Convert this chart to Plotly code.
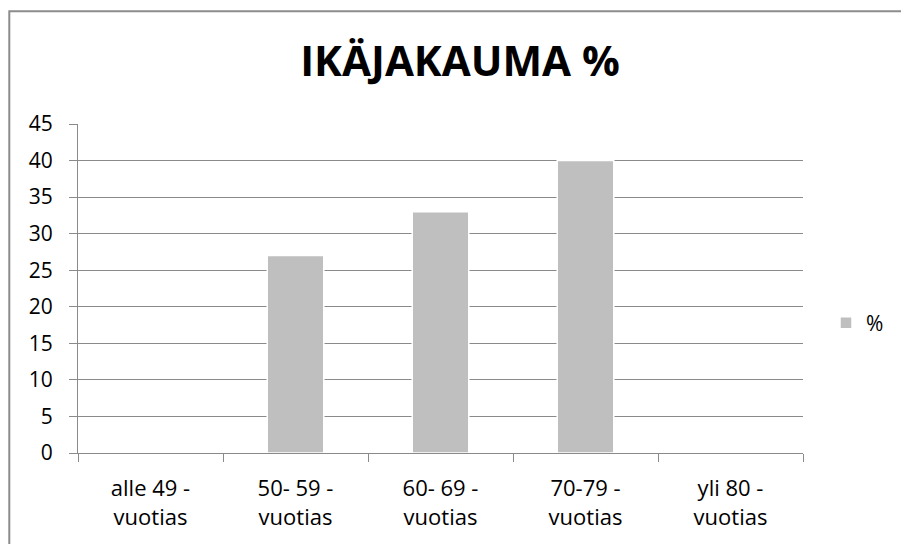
import plotly.graph_objects as go

categories = ["alle 49 -<br>vuotias", "50- 59 -<br>vuotias", "60- 69 -<br>vuotias",
              "70-79 -<br>vuotias", "yli 80 -<br>vuotias"]
values = [0, 27, 33, 40, 0]
series_name = "%"
title_text = "IKÄJAKAUMA %"
y_ticks = [0, 5, 10, 15, 20, 25, 30, 35, 40, 45]

W, H = 901, 544
L, R, T, B = 78, 98, 124, 91
pw, ph = W - L - R, H - T - B

def px_x(p):
    return (p - L) / pw

def px_y(p):
    return (H - B - p) / ph

FONT = "Open Sans"
GRID = "#8a8a8a"

fig = go.Figure()
fig.add_trace(go.Bar(
    x=categories, y=values, name=series_name,
    marker=dict(color="#bfbfbf", line=dict(color="#ffffff", width=1.5)),
    width=0.39, showlegend=True,
))

fig.update_layout(
    width=W, height=H,
    margin=dict(l=L, r=R, t=T, b=B),
    paper_bgcolor="white", plot_bgcolor="white",
    font=dict(family=FONT, size=21, color="#000000"),
    title=dict(text="<b>" + title_text + "</b>", x=px_x(460), xref="paper",
               xanchor="center", y=1 - 61 / H, yanchor="middle",
               font=dict(family=FONT, size=42, color="#000000")),
    xaxis=dict(
        type="category", showline=True, linecolor=GRID, linewidth=1,
        ticks="outside", tickson="boundaries", ticklen=8, tickcolor=GRID,
        showgrid=False, tickfont=dict(family=FONT, size=22), ticklabelstandoff=16,
        automargin=False,
    ),
    yaxis=dict(
        range=[0, 45], tickvals=y_ticks, showline=True, linecolor=GRID, linewidth=1,
        ticks="outside", ticklen=8, tickcolor=GRID,
        showgrid=True, gridcolor=GRID, gridwidth=1, zeroline=False,
        tickfont=dict(family=FONT, size=21), ticklabelstandoff=12,
        automargin=False,
    ),
    legend=dict(x=px_x(826), y=px_y(323), xanchor="left", yanchor="middle",
                font=dict(family=FONT, size=21), bgcolor="rgba(0,0,0,0)",
                itemwidth=30),
    bargap=0.61,
    shapes=[dict(type="rect", xref="paper", yref="paper",
                 x0=px_x(9.3), x1=px_x(910), y0=px_y(560), y1=px_y(11.3),
                 line=dict(color="#8c8c8c", width=2), fillcolor="rgba(0,0,0,0)",
                 layer="below")],
)

fig.write_html("out.html")
